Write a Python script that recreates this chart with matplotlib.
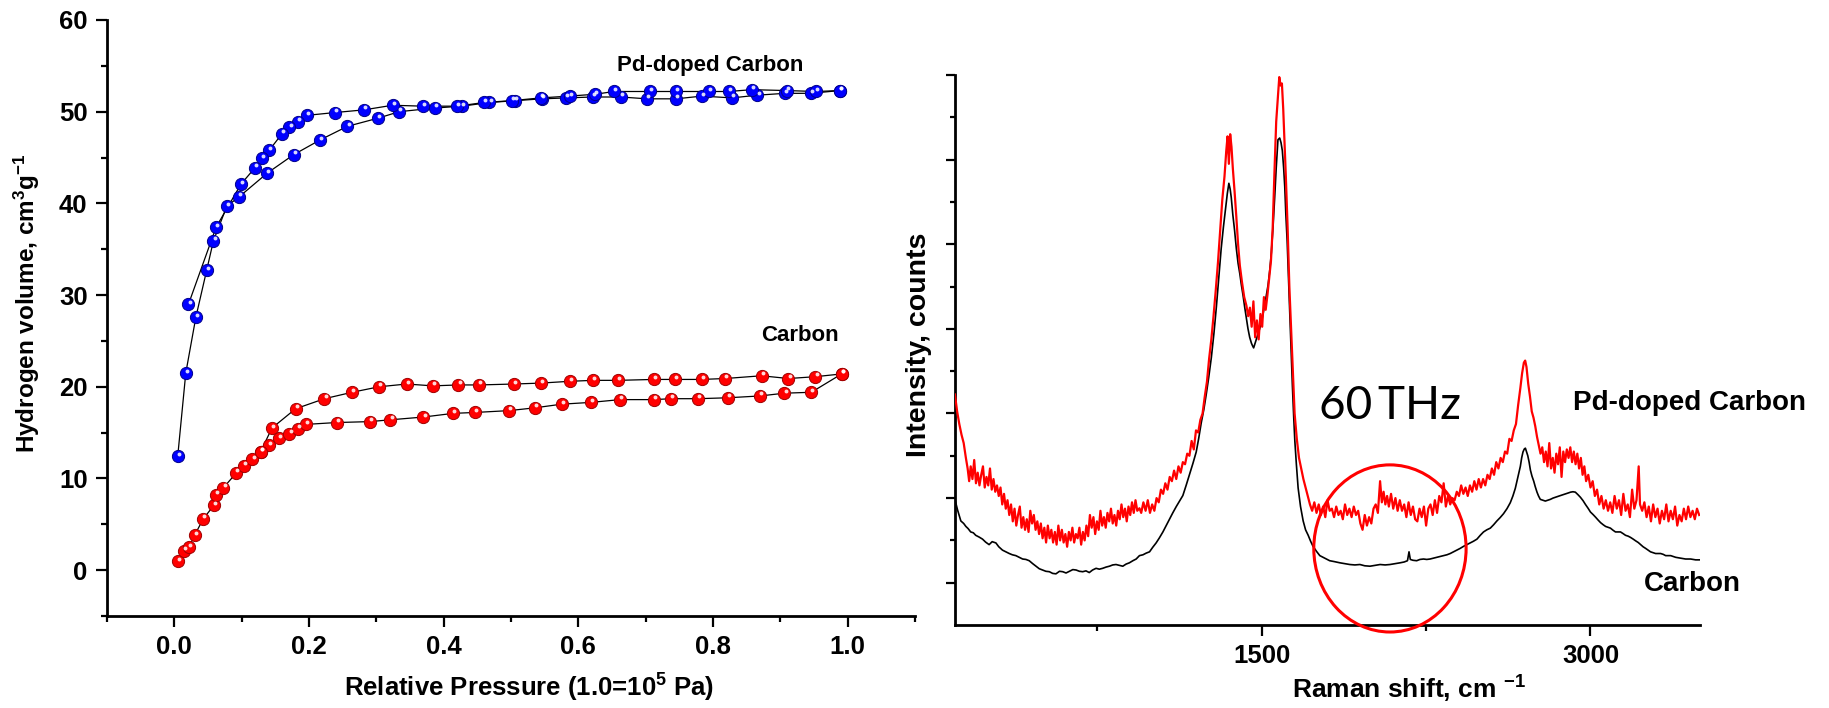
import matplotlib
matplotlib.use('Agg')
import matplotlib.pyplot as plt
from matplotlib.patches import Ellipse
from matplotlib.transforms import offset_copy
from matplotlib.ticker import FixedLocator, NullFormatter, FormatStrFormatter

plt.rcParams['font.family'] = ['Liberation Sans', 'DejaVu Sans']
plt.rcParams['font.weight'] = 'bold'
plt.rcParams['mathtext.fontset'] = 'custom'
plt.rcParams['mathtext.rm'] = 'Liberation Sans:bold'
plt.rcParams['mathtext.it'] = 'Liberation Sans:bold'
plt.rcParams['mathtext.bf'] = 'Liberation Sans:bold'

# ---- hydrogen isotherms (left) ----
pd_ads_x = [0.005, 0.017, 0.032, 0.048, 0.058, 0.078, 0.096, 0.138, 0.177, 0.216, 0.257, 0.303, 0.334,
            0.387, 0.427, 0.468, 0.506, 0.546, 0.582, 0.621, 0.663, 0.702, 0.745, 0.784, 0.828, 0.866,
            0.907, 0.945, 0.988]
pd_ads_y = [12.4, 21.5, 27.6, 32.7, 35.9, 39.7, 40.7, 43.3, 45.3, 46.9, 48.4, 49.3, 50.0,
            50.4, 50.6, 51.0, 51.2, 51.4, 51.5, 51.6, 51.6, 51.4, 51.4, 51.7, 51.5, 51.8,
            52.0, 52.0, 52.3]
pd_des_x = [0.988, 0.953, 0.910, 0.858, 0.823, 0.794, 0.745, 0.706, 0.653, 0.625, 0.587, 0.544, 0.501,
            0.460, 0.420, 0.369, 0.324, 0.282, 0.238, 0.197, 0.184, 0.171, 0.160, 0.141, 0.130, 0.120,
            0.099, 0.062, 0.021]
pd_des_y = [52.3, 52.2, 52.3, 52.4, 52.2, 52.2, 52.2, 52.2, 52.2, 51.9, 51.7, 51.5, 51.2,
            51.0, 50.6, 50.6, 50.7, 50.2, 49.9, 49.6, 48.9, 48.3, 47.6, 45.8, 44.9, 43.9,
            42.1, 37.4, 29.0]

c_ads_x = [0.005, 0.014, 0.022, 0.030, 0.043, 0.059, 0.062, 0.073, 0.092, 0.103, 0.116, 0.128, 0.141,
           0.155, 0.171, 0.184, 0.196, 0.241, 0.290, 0.321, 0.370, 0.414, 0.447, 0.497, 0.535, 0.575,
           0.619, 0.662, 0.712, 0.738, 0.778, 0.822, 0.870, 0.906, 0.946, 0.991]
c_ads_y = [0.98, 2.1, 2.5, 3.8, 5.6, 7.1, 8.2, 9.0, 10.6, 11.4, 12.1, 12.9, 13.6,
           14.4, 14.9, 15.4, 15.9, 16.1, 16.2, 16.4, 16.7, 17.1, 17.2, 17.4, 17.7, 18.1,
           18.3, 18.6, 18.6, 18.7, 18.7, 18.8, 19.0, 19.3, 19.4, 21.4]
c_des_x = [0.991, 0.952, 0.912, 0.872, 0.818, 0.783, 0.744, 0.712, 0.659, 0.622, 0.588, 0.544, 0.504,
           0.453, 0.422, 0.384, 0.345, 0.304, 0.264, 0.223, 0.180, 0.145, 0.128]
c_des_y = [21.4, 21.1, 20.9, 21.2, 20.9, 20.8, 20.8, 20.8, 20.7, 20.7, 20.6, 20.4, 20.3,
           20.2, 20.2, 20.1, 20.3, 20.0, 19.4, 18.7, 17.6, 15.5, 12.9]

# ---- Raman spectra (right) ----
pd_raman_x = [100, 110, 120, 130, 140, 150, 158, 165, 172, 180, 188, 196, 204, 212, 220, 228, 236, 244,
              252, 260, 268, 276, 284, 292, 300, 308, 316, 324, 332, 340, 348, 356, 364, 372, 380, 388,
              396, 404, 412, 420, 428, 436, 444, 452, 460, 468, 476, 484, 492, 500, 508, 516, 524, 532,
              540, 548, 556, 564, 572, 580, 588, 596, 604, 612, 620, 628, 636, 644, 652, 660, 668, 676,
              684, 692, 700, 708, 716, 724, 732, 740, 748, 756, 764, 772, 780, 788, 796, 804, 812, 820,
              828, 836, 844, 852, 860, 868, 876, 884, 892, 900, 908, 916, 924, 932, 942,
              950, 960, 970, 980, 990, 1000, 1010, 1020, 1030, 1040, 1050, 1060, 1070, 1080, 1090, 1100,
              1110, 1120, 1130, 1140, 1150, 1160, 1170, 1180, 1190, 1200, 1210, 1220, 1230, 1240, 1250,
              1260, 1270, 1280, 1290, 1300, 1310, 1320, 1330, 1338, 1344, 1350, 1356, 1362, 1368, 1376,
              1384, 1392, 1400, 1410, 1420, 1430, 1438, 1446, 1454, 1462, 1470, 1478, 1486, 1494, 1502,
              1510, 1518, 1526, 1534, 1542, 1550, 1558, 1566, 1574, 1580, 1586, 1592, 1598, 1604, 1610,
              1618, 1626, 1634, 1642, 1650, 1660, 1670, 1680, 1690, 1700, 1710, 1720, 1730, 1740, 1750,
              1760, 1770, 1780, 1790, 1800, 1810,
              1820, 1830, 1840, 1850, 1860, 1870, 1880, 1890, 1900, 1910, 1920, 1930, 1940, 1950, 1960,
              1970, 1980, 1990, 2000, 2010, 2020, 2030, 2040, 2048, 2056, 2064, 2072, 2080, 2090, 2100,
              2110, 2120, 2130, 2140, 2150, 2160, 2170, 2180, 2190, 2200, 2210, 2220, 2230, 2240, 2250,
              2260, 2270, 2280, 2290, 2300, 2310, 2320, 2330, 2340, 2350, 2360, 2370, 2380, 2390, 2400,
              2410, 2420, 2430, 2440, 2450, 2460, 2470, 2480, 2490, 2500, 2510, 2520, 2530, 2540, 2550,
              2560, 2570, 2580, 2590, 2600, 2610, 2620, 2630, 2640, 2650, 2660, 2670, 2680, 2688, 2696,
              2702, 2708, 2716, 2724, 2732, 2740, 2748, 2756, 2764, 2772, 2780, 2788, 2796, 2804, 2812,
              2820, 2828, 2836, 2844, 2852, 2860, 2868, 2876, 2884, 2892, 2900, 2908, 2916, 2924, 2932,
              2940, 2948, 2956, 2964, 2972, 2980, 2990, 3000, 3010, 3020, 3030, 3040, 3050, 3060, 3070,
              3080, 3090, 3100, 3110, 3120, 3130, 3140, 3150, 3160, 3170, 3180, 3190, 3200, 3210, 3220,
              3226, 3236, 3246, 3256, 3266, 3276, 3286, 3296, 3306, 3316, 3326, 3336, 3346, 3356, 3366,
              3376, 3386, 3396, 3406, 3416, 3426, 3436, 3446, 3456, 3466, 3476, 3486, 3496]
pd_raman_y = [5.45, 5.05, 4.75, 4.50, 4.30, 3.95, 3.70, 3.40, 3.75, 3.45, 3.90, 3.35, 3.60, 3.30, 3.55, 3.75, 3.25, 3.50,
              3.30, 3.70, 3.20, 3.45, 3.15, 3.30, 3.05, 3.25, 2.85, 3.10, 2.75, 2.95, 2.60, 2.85, 2.45, 2.75, 2.35, 2.60,
              2.80, 2.30, 2.55, 2.25, 2.50, 2.20, 2.70, 2.40, 2.60, 2.25, 2.45, 2.15, 2.40, 2.05, 2.30, 1.95, 2.35, 2.05,
              2.25, 1.95, 2.20, 1.90, 2.35, 2.00, 2.25, 1.95, 2.15, 1.85, 2.20, 2.00, 2.30, 1.95, 2.15, 2.05, 2.30, 1.90,
              2.20, 2.00, 2.35, 2.10, 2.60, 2.30, 2.55, 2.15, 2.45, 2.25, 2.70, 2.35, 2.55, 2.30, 2.65, 2.45, 2.75, 2.40,
              2.60, 2.35, 2.70, 2.50, 2.85, 2.55, 2.75, 2.45, 2.80, 2.60, 2.90, 2.65, 2.95, 2.70, 2.76,
              2.65, 2.90, 2.70, 2.95, 2.65, 2.85, 2.70, 3.00, 2.90, 3.20, 3.10, 3.35, 3.20, 3.50, 3.40, 3.65,
              3.45, 3.75, 3.60, 3.85, 3.80, 4.05, 4.00, 4.35, 4.15, 4.60, 4.55, 4.85, 5.00, 5.40, 5.75,
              6.30, 6.75, 7.30, 7.90, 8.55, 9.30, 10.05, 10.60, 11.20, 11.55, 10.90, 11.60, 11.30, 10.80, 10.25,
              9.65, 9.00, 8.50, 8.10, 7.75, 7.55, 7.30, 7.50, 7.05, 7.65, 6.80, 7.20, 6.75, 7.35, 7.05,
              7.75, 7.45, 7.80, 8.20, 8.60, 9.40, 10.70, 11.90, 12.50, 12.95, 12.75, 12.80, 12.20, 11.40, 10.60,
              9.40, 8.00, 7.00, 6.00, 5.00, 4.40, 3.95, 3.70, 3.45, 3.25, 3.05, 2.85, 2.70, 2.90, 2.65,
              2.85, 2.60, 2.80, 2.55, 2.95, 2.70,
              2.75, 2.55, 2.80, 2.60, 2.70, 2.50, 2.85, 2.60, 2.75, 2.55, 2.80, 2.60, 2.70, 2.40, 2.25,
              2.60, 2.35, 2.55, 2.40, 2.75, 2.85, 2.65, 3.40, 2.90, 3.15, 2.85, 3.05, 2.80, 3.10, 2.75,
              3.00, 2.70, 2.95, 2.70, 2.85, 2.55, 2.90, 2.60, 2.80, 2.50, 2.45, 2.75, 2.55, 2.80, 2.35,
              2.75, 2.85, 2.60, 2.95, 2.65, 3.05, 2.90, 3.35, 2.80, 3.05, 2.85, 3.00, 2.95, 3.15, 3.05,
              3.30, 3.10, 3.25, 3.05, 3.30, 3.15, 3.40, 3.20, 3.45, 3.25, 3.45, 3.30, 3.55, 3.45, 3.70,
              3.55, 3.85, 3.70, 3.95, 3.85, 4.10, 4.05, 4.40, 4.35, 4.60, 4.75, 5.20, 5.60, 5.95, 6.20,
              6.25, 6.10, 5.70, 5.40, 5.05, 4.90, 4.70, 4.45, 4.25, 4.05, 4.20, 3.85, 4.10, 3.75, 4.30,
              3.70, 3.95, 3.60, 4.05, 3.80, 4.20, 3.50, 4.10, 3.85, 4.15, 3.95, 4.20, 3.85, 4.10, 3.80,
              4.05, 3.70, 3.95, 3.55, 3.75, 3.40, 3.55, 3.25, 3.40, 3.05, 3.20, 2.85, 3.05, 2.75, 2.95,
              2.70, 2.90, 2.65, 3.05, 2.75, 2.95, 2.60, 3.10, 2.70, 2.85, 2.55, 3.20, 2.75, 2.95, 3.75,
              2.85, 2.70, 2.90, 2.55, 2.80, 2.45, 2.85, 2.55, 2.75, 2.40, 2.70, 2.50, 2.85, 2.45, 2.70,
              2.50, 2.80, 2.35, 2.60, 2.45, 2.75, 2.50, 2.80, 2.55, 2.70, 2.50, 2.75, 2.60]

c_raman_x = [100, 112, 127, 140, 150, 160, 172, 184, 195, 210, 226, 240, 256, 270, 287, 300, 317, 332, 348,
             362, 378, 393, 409, 424, 439, 455, 470, 485, 500, 515, 531, 546, 561, 577, 592, 607, 622, 638,
             653, 668, 683, 698, 713, 728, 744, 759, 774, 790, 805, 820, 835, 850, 866, 881, 896, 912, 927,
             942, 958, 973, 988, 1003, 1018, 1033, 1049, 1064, 1079, 1094, 1110, 1125, 1140, 1155, 1171,
             1186, 1201, 1212, 1224, 1236, 1247, 1258, 1270, 1282, 1293, 1304, 1315, 1325, 1335, 1343,
             1350, 1356, 1361, 1368, 1376, 1384, 1392, 1400, 1407, 1415, 1422, 1430, 1437, 1445, 1453,
             1458, 1463, 1469, 1475, 1483, 1491, 1499, 1506, 1518, 1529, 1537, 1544, 1552, 1559, 1566,
             1574, 1582, 1588, 1594, 1600, 1605, 1610, 1616, 1622, 1628, 1634, 1640, 1646, 1651, 1658,
             1666, 1677, 1689, 1700, 1712, 1723, 1734, 1750, 1765, 1780, 1795, 1810, 1830, 1857, 1880,
             1902, 1925, 1948, 1970, 1994, 2017, 2040, 2063, 2085, 2108, 2131, 2150, 2165, 2172, 2178,
             2190, 2207, 2222, 2238, 2253, 2268, 2284, 2299, 2314, 2329, 2345, 2360, 2375, 2390, 2405,
             2421, 2436, 2451, 2466, 2482, 2497, 2512, 2527, 2543, 2558, 2573, 2588, 2603, 2619, 2634,
             2646, 2657, 2668, 2680, 2686, 2692, 2698, 2703, 2708, 2714, 2720, 2726, 2733, 2741, 2748,
             2756, 2763, 2771, 2783, 2794, 2806, 2817, 2829, 2840, 2852, 2863, 2875, 2886, 2898, 2909,
             2920, 2931, 2943, 2954, 2966, 2977, 2989, 3000, 3012, 3023, 3035, 3046, 3058, 3069, 3080,
             3091, 3103, 3114, 3126, 3137, 3149, 3160, 3172, 3183, 3195, 3206, 3218, 3229, 3240, 3252,
             3263, 3274, 3286, 3297, 3309, 3320, 3332, 3343, 3355, 3366, 3378, 3389, 3400, 3412, 3423,
             3434, 3446, 3457, 3469, 3480, 3490, 3500]
c_raman_y = [2.97, 2.72, 2.46, 2.40, 2.33, 2.28, 2.20, 2.18, 2.12, 2.08, 2.03, 1.96, 1.90, 1.97, 1.94, 1.85, 1.77, 1.73, 1.69,
             1.66, 1.64, 1.60, 1.56, 1.55, 1.52, 1.45, 1.39, 1.33, 1.30, 1.27, 1.26, 1.22, 1.21, 1.27, 1.26, 1.23, 1.27, 1.31,
             1.30, 1.27, 1.26, 1.28, 1.24, 1.30, 1.34, 1.32, 1.34, 1.37, 1.39, 1.42, 1.43, 1.41, 1.39, 1.44, 1.47, 1.52, 1.56,
             1.64, 1.66, 1.70, 1.73, 1.84, 1.94, 2.06, 2.20, 2.35, 2.50, 2.65, 2.80, 2.93, 3.06, 3.30, 3.57,
             3.82, 4.09, 4.40, 4.78, 5.10, 5.46, 5.85, 6.32, 6.90, 7.52, 8.20, 8.90, 9.40, 9.84, 10.20,
             10.44, 10.30, 10.10, 9.70, 9.33, 8.90, 8.55, 8.30, 8.04, 7.78, 7.52, 7.25, 7.01, 6.80, 6.66,
             6.60, 6.55, 6.65, 6.75, 6.88, 7.01, 7.18, 7.35, 7.70, 8.04, 8.40, 8.81, 9.45, 10.10, 10.80,
             11.47, 11.51, 11.40, 11.21, 10.80, 10.36, 9.70, 9.07, 8.20, 7.35, 6.50, 5.64, 4.90, 4.35, 3.80,
             3.24, 2.80, 2.46, 2.25, 2.12, 1.98, 1.86, 1.74, 1.64, 1.60, 1.56, 1.52, 1.50, 1.47, 1.45,
             1.43, 1.42, 1.43, 1.40, 1.39, 1.41, 1.43, 1.42, 1.43, 1.45, 1.47, 1.49, 1.52, 1.73, 1.55,
             1.53, 1.52, 1.55, 1.56, 1.55, 1.56, 1.58, 1.60, 1.62, 1.64, 1.66, 1.69, 1.73, 1.77, 1.81,
             1.86, 1.90, 1.94, 1.98, 2.03, 2.12, 2.20, 2.25, 2.29, 2.37, 2.46, 2.54, 2.63, 2.75, 2.89,
             3.05, 3.23, 3.48, 3.75, 3.95, 4.09, 4.16, 4.18, 4.10, 4.00, 3.85, 3.66, 3.52, 3.40, 3.27,
             3.14, 3.05, 2.97, 2.95, 2.93, 2.95, 2.97, 3.00, 3.02, 3.04, 3.06, 3.08, 3.10, 3.12, 3.14,
             3.15, 3.14, 3.08, 3.02, 2.94, 2.85, 2.76, 2.67, 2.61, 2.55, 2.48, 2.42, 2.37, 2.33, 2.31,
             2.29, 2.24, 2.20, 2.20, 2.20, 2.16, 2.12, 2.10, 2.07, 2.03, 1.99, 1.95, 1.90, 1.85, 1.81,
             1.77, 1.73, 1.71, 1.69, 1.69, 1.69, 1.67, 1.64, 1.64, 1.64, 1.62, 1.60, 1.59, 1.58, 1.57,
             1.56, 1.56, 1.56, 1.55, 1.54, 1.54, 1.54]

fig = plt.figure(figsize=(18.29, 7.08), dpi=100)
ax1 = fig.add_axes([0.0585, 0.1299, 0.4418, 0.8419])
ax2 = fig.add_axes([0.5221, 0.1172, 0.4074, 0.7769])


def balls(ax, x, y, color, edge):
    ax.plot(x, y, color='black', lw=0.9, zorder=2)
    ax.plot(x, y, ls='none', marker='o', ms=8.8, mfc=color, mec=edge, mew=0.7, zorder=3)
    shift = offset_copy(ax.transData, fig=fig, x=0.8, y=1.8, units='points')
    ax.plot(x, y, ls='none', marker='o', ms=2.8, mfc='white', mec='none', alpha=0.85,
            transform=shift, zorder=4)


balls(ax1, pd_ads_x, pd_ads_y, '#0000ff', '#00008a')
balls(ax1, pd_des_x, pd_des_y, '#0000ff', '#00008a')
balls(ax1, c_ads_x, c_ads_y, '#ff0000', '#a00000')
balls(ax1, c_des_x, c_des_y, '#ff0000', '#a00000')

ax1.set_xlim(-0.1, 1.1)
ax1.set_ylim(-5, 60)
ax1.xaxis.set_major_locator(FixedLocator([0, 0.2, 0.4, 0.6, 0.8, 1.0]))
ax1.xaxis.set_minor_locator(FixedLocator([-0.1, 0.1, 0.3, 0.5, 0.7, 0.9, 1.1]))
ax1.xaxis.set_major_formatter(FormatStrFormatter('%.1f'))
ax1.yaxis.set_major_locator(FixedLocator([0, 10, 20, 30, 40, 50, 60]))
ax1.yaxis.set_minor_locator(FixedLocator([-5, 5, 15, 25, 35, 45, 55]))

ax1.text(0.657, 54.4, 'Pd-doped Carbon', fontsize=16, fontweight='bold', ha='left', va='baseline')
ax1.text(0.872, 25.0, 'Carbon', fontsize=16, fontweight='bold', ha='left', va='baseline')

# spectra
ax2.plot(c_raman_x, c_raman_y, color='black', lw=1.2, zorder=2)
ax2.plot(pd_raman_x, pd_raman_y, color='#ff0000', lw=1.6, zorder=3)
ax2.set_xlim(100, 3500)
ax2.set_ylim(0, 13)
ax2.xaxis.set_major_locator(FixedLocator([1500, 3000]))
ax2.xaxis.set_minor_locator(FixedLocator([750, 2250]))
ax2.yaxis.set_major_locator(FixedLocator([1, 3, 5, 7, 9, 11, 13]))
ax2.yaxis.set_minor_locator(FixedLocator([2, 4, 6, 8, 10, 12]))
ax2.yaxis.set_major_formatter(NullFormatter())

ax2.add_patch(Ellipse((2085, 1.81), 695, 3.95, fill=False, edgecolor='#ff0000', lw=2.2,
                      clip_on=False, zorder=4))
ax2.text(2085, 4.87, '60\u2009THz', fontsize=33, family=['Lato', 'DejaVu Sans'],
         fontweight='normal', ha='center', va='baseline')
ax2.text(0.830, 0.391, 'Pd-doped Carbon', transform=ax2.transAxes, fontsize=20,
         fontweight='bold', ha='left', va='baseline')
ax2.text(0.925, 0.062, 'Carbon', transform=ax2.transAxes, fontsize=20,
         fontweight='bold', ha='left', va='baseline')

for ax in (ax1, ax2):
    ax.spines['top'].set_visible(False)
    ax.spines['right'].set_visible(False)
    ax.spines['left'].set_linewidth(2)
    ax.spines['bottom'].set_linewidth(2)
    ax.tick_params(which='major', direction='out', length=8, width=1.6, labelsize=18.5, pad=6)
    ax.tick_params(which='minor', direction='out', length=4, width=1.6)
    for lab in ax.get_xticklabels() + ax.get_yticklabels():
        lab.set_fontweight('bold')

ax2.tick_params(axis='y', which='major', length=6.5)
ax2.tick_params(axis='y', which='minor', length=3.5)

fig.text(27 / 1829, 1 - 303 / 708, r'Hydrogen volume, cm$^{3}$g$^{-1}$', rotation=90,
         fontsize=17.5, fontweight='bold', ha='center', va='center')
fig.text(344 / 1829, 1 - 697 / 708, r'Relative Pressure (1.0=10$^{5}$ Pa)',
         fontsize=18.5, fontweight='bold', ha='left', va='baseline')
fig.text(919 / 1829, 1 - 345 / 708, 'Intensity, counts', rotation=90,
         fontsize=20.5, fontweight='bold', ha='center', va='center')
fig.text(1292 / 1829, 1 - 699 / 708, r'Raman shift, cm $^{-1}$',
         fontsize=19, fontweight='bold', ha='left', va='baseline')

fig.savefig('out.png', dpi=100)
